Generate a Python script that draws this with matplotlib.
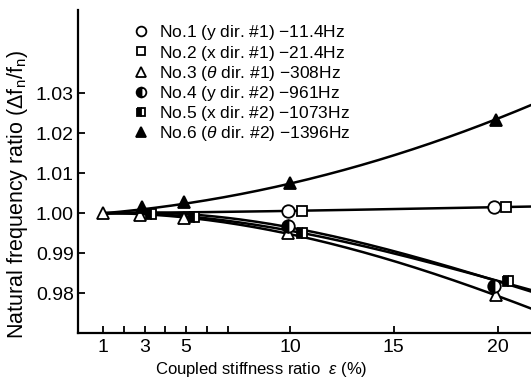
import numpy as np
import matplotlib
matplotlib.use('Agg')
import matplotlib.pyplot as plt
from matplotlib.lines import Line2D

plt.rcParams['font.family'] = ['Liberation Sans', 'DejaVu Sans']
plt.rcParams['mathtext.fontset'] = 'custom'
plt.rcParams['mathtext.rm'] = 'Liberation Sans'
plt.rcParams['mathtext.it'] = 'Liberation Sans:italic'

# measured points
eps_no1 = [9.9, 19.8]
no1 = [1.0006, 1.0015]
eps_no2 = [10.6, 20.4]
no2 = [1.0006, 1.0015]
eps_no3 = [1, 2.8, 4.9, 9.9, 19.9]
no3 = [1.000, 0.9995, 0.9987, 0.9950, 0.9795]
eps_no4 = [9.9, 19.8]
no4 = [0.9968, 0.9818]
eps_no5 = [3.3, 5.4, 10.6, 20.5]
no5 = [0.9997, 0.9991, 0.9951, 0.9831]
eps_no6 = [2.9, 4.9, 10.0, 19.9]
no6 = [1.0015, 1.0028, 1.0075, 1.0233]

# curves
curve_x = [1, 5, 10, 15, 20, 21.6]
curve6 = [1.000, 1.0022, 1.0075, 1.0145, 1.0233, 1.0272]
curve12 = [1.000, 1.0002, 1.0005, 1.0010, 1.0015, 1.0016]
curve4 = [1.000, 0.9992, 0.9968, 0.9907, 0.9820, 0.9810]
curve5 = [1.000, 0.9990, 0.9958, 0.9898, 0.9830, 0.9808]
curve3 = [1.000, 0.9987, 0.9950, 0.9877, 0.9795, 0.9760]

labels = [r'No.1 (y dir. #1) $-$11.4Hz',
          r'No.2 (x dir. #1) $-$21.4Hz',
          r'No.3 ($\it{\theta}$ dir. #1) $-$308Hz',
          r'No.4 (y dir. #2) $-$961Hz',
          r'No.5 (x dir. #2) $-$1073Hz',
          r'No.6 ($\it{\theta}$ dir. #2) $-$1396Hz']

xticks = [1, 3, 5, 10, 15, 20]
minor_xticks = [2, 4, 6, 7]
yticks = [0.98, 0.99, 1.00, 1.01, 1.02, 1.03]

fig = plt.figure(figsize=(5.31, 3.78), dpi=100)
ax = fig.add_axes([0.147, 0.119, 0.853, 0.855])

xs = np.linspace(1, 21.6, 200)
for c in [curve6, curve12, curve4, curve5, curve3]:
    p = np.polyfit(curve_x, c, 3)
    ax.plot(xs, np.polyval(p, xs), color='black', lw=1.8, zorder=2)

ms = 9
mk = dict(color='black', ls='none', markeredgewidth=1.3, zorder=3)
ax.plot(eps_no1, no1, marker='o', ms=ms, mfc='white', **mk)
ax.plot(eps_no2, no2, marker='s', ms=ms - 1.5, mfc='white', **mk)
ax.plot(eps_no3, no3, marker='^', ms=ms, mfc='white', **mk)
ax.plot(eps_no4, no4, marker='o', ms=ms, fillstyle='left', mfc='black',
        markerfacecoloralt='white', **mk)
ax.plot(eps_no5, no5, marker='s', ms=ms - 1.5, fillstyle='left', mfc='black',
        markerfacecoloralt='white', **mk)
ax.plot(eps_no6, no6, marker='^', ms=ms, mfc='black', **mk)

handles = [
    Line2D([], [], marker='o', ms=7, mfc='white', **mk),
    Line2D([], [], marker='s', ms=6, mfc='white', **mk),
    Line2D([], [], marker='^', ms=7, mfc='white', **mk),
    Line2D([], [], marker='o', ms=7, fillstyle='left', mfc='black', markerfacecoloralt='white', **mk),
    Line2D([], [], marker='s', ms=6, fillstyle='left', mfc='black', markerfacecoloralt='white', **mk),
    Line2D([], [], marker='^', ms=7, mfc='black', **mk),
]
ax.legend(handles, labels, loc='upper left', bbox_to_anchor=(0.105, 0.985),
          frameon=False, fontsize=12.5, handlelength=0.8, handletextpad=0.6,
          labelspacing=0.07, borderpad=0)

ax.set_xlim(-0.2, 21.6)
ax.set_ylim(0.97, 1.0508)
ax.set_xticks(xticks)
ax.set_xticks(minor_xticks, minor=True)
ax.set_yticks(yticks)
ax.set_yticklabels(['%.2f' % v for v in yticks])

for t in ax.get_xticklabels() + ax.get_yticklabels():
    t.set_fontsize(14)

ax.tick_params(which='both', direction='in', width=1.3, length=5)
ax.tick_params(axis='x', pad=4)
ax.tick_params(axis='y', pad=3)

for s in ['top', 'right']:
    ax.spines[s].set_visible(False)
for s in ['left', 'bottom']:
    ax.spines[s].set_linewidth(1.6)

ax.set_xlabel(r'Coupled stiffness ratio  $\it{\varepsilon}$ (%)', fontsize=12)
ax.xaxis.set_label_coords(0.404, -0.085)
ax.set_ylabel(r'Natural frequency ratio ($\Delta$f$_{\rm n}$/f$_{\rm n}$)', fontsize=15.5)
ax.yaxis.set_label_coords(-0.106, 0.43)

fig.savefig('out.png', dpi=100)
